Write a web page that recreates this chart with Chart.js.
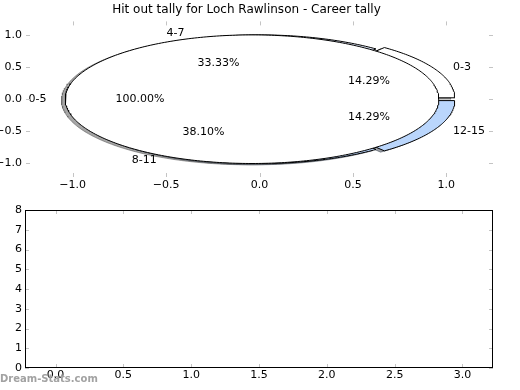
<!DOCTYPE html>
<html>
<head>
<meta charset="utf-8">
<script src="https://cdn.jsdelivr.net/npm/chart.js@4.4.1/dist/chart.umd.min.js"></script>
<style>
  html, body { margin: 0; padding: 0; background: #fff; }
  #wrap { position: relative; width: 520px; height: 390px; overflow: hidden; }
  #pieBox { position: absolute; left: 0; top: 0; width: 520px; height: 200px; }
  #barBox { position: absolute; left: 0; top: 200px; width: 520px; height: 190px; }
  #mark { position: absolute; left: 0; top: 373px; font: bold 10px 'DejaVu Sans', sans-serif; color: #a2a2a2; }
</style>
</head>
<body>
<div id="wrap">
  <div id="pieBox"><canvas id="pieChart" width="520" height="200"></canvas></div>
  <div id="barBox"><canvas id="barChart" width="520" height="190"></canvas></div>
  <div id="mark">Dream-Stats.com</div>
</div>
<script>
// Chart data
const chartTitle = 'Hit out tally for Loch Rawlinson - Career tally';
const tallyLabels = ['0-3', '4-7', '8-11', '12-15'];
const tallyCounts = [3, 7, 8, 3];
const tallyExplode = [0.05, 0, 0, 0.05];
const tallyColors = ['#ffffff', '#e2ebfc', '#bad6fc', '#bad6fc'];
const careerLabels = ['0-5'];
const careerCounts = [21];
const careerExplode = [0.04];
const careerColors = ['#ffffff'];
const pieTicks = [-1.0, -0.5, 0.0, 0.5, 1.0];

const barCategories = [0, 1, 2, 3];
const barValues = [0, 0, 0, 0];
const barXTicks = [0.0, 0.5, 1.0, 1.5, 2.0, 2.5, 3.0];
const barYTicks = [0, 1, 2, 3, 4, 5, 6, 7, 8];

const tickFont = { family: "'DejaVu Sans', sans-serif", size: 11 };

// Wedge outlines built from the counts (angles counter-clockwise from 0 like matplotlib)
function buildWedges(labels, counts, explode, colors) {
    const total = counts.reduce((a, b) => a + b, 0);
    let start = 0;
    return counts.map((c, i) => {
        const sweep = 360 * c / total;
        const mid = (start + sweep / 2) * Math.PI / 180;
        const cx = explode[i] * Math.cos(mid);
        const cy = explode[i] * Math.sin(mid);
        const full = sweep >= 359.999;
        const pts = full ? [] : [{ x: cx, y: cy }];
        const steps = Math.max(4, Math.ceil(sweep));
        for (let k = 0; k <= steps; k++) {
            const a = (start + sweep * k / steps) * Math.PI / 180;
            pts.push({ x: cx + Math.cos(a), y: cy + Math.sin(a) });
        }
        if (!full) pts.push({ x: cx, y: cy });
        start += sweep;
        return { label: labels[i], pct: 100 * c / total, cx, cy, mid, pts, color: colors[i] };
    });
}

const tallyWedges = buildWedges(tallyLabels, tallyCounts, tallyExplode, tallyColors);
const careerWedges = buildWedges(careerLabels, careerCounts, careerExplode, careerColors);

function shadowColor(hex) {
    const n = parseInt(hex.slice(1), 16);
    const r = Math.round(((n >> 16) & 255) * 0.3);
    const g = Math.round(((n >> 8) & 255) * 0.3);
    const b = Math.round((n & 255) * 0.3);
    return `rgba(${r}, ${g}, ${b}, 0.5)`;
}

const pieDatasets = [];
[...tallyWedges, ...careerWedges].forEach(w => {
    // shadow (drawn first)
    pieDatasets.push({
        data: w.pts.map(p => ({ x: p.x - 0.02, y: p.y - 0.02 })),
        showLine: true, fill: 'shape', tension: 0,
        backgroundColor: shadowColor(w.color), borderColor: shadowColor(w.color),
        borderWidth: 1, pointRadius: 0, order: 100
    });
});
tallyWedges.forEach(w => {
    pieDatasets.push({
        data: w.pts, showLine: true, fill: 'shape', tension: 0,
        backgroundColor: w.color, borderColor: '#000', borderWidth: 1,
        pointRadius: 0, order: 50
    });
});
careerWedges.forEach(w => {
    pieDatasets.push({
        data: w.pts, showLine: true, fill: 'shape', tension: 0,
        backgroundColor: w.color, borderColor: '#000', borderWidth: 1,
        pointRadius: 0, order: 10
    });
});

function fmt1(value) {
    const s = Math.abs(value).toFixed(1);
    return value < 0 ? '\u2212' + s : s;
}

// Light inward tick marks on all four sides (+ optional frame)
const innerTicks = {
    id: 'innerTicks',
    afterDraw(chart, args, opts) {
        const { ctx, chartArea: a, scales: { x, y } } = chart;
        ctx.save();
        ctx.strokeStyle = '#c4c4c4';
        ctx.lineWidth = 1;
        ctx.beginPath();
        x.ticks.forEach(t => {
            const px = Math.round(x.getPixelForValue(t.value)) + 0.5;
            ctx.moveTo(px, a.top); ctx.lineTo(px, a.top + 4);
            ctx.moveTo(px, a.bottom); ctx.lineTo(px, a.bottom - 4);
        });
        y.ticks.forEach(t => {
            const py = Math.round(y.getPixelForValue(t.value)) + 0.5;
            ctx.moveTo(a.left, py); ctx.lineTo(a.left + 4, py);
            ctx.moveTo(a.right, py); ctx.lineTo(a.right - 4, py);
        });
        ctx.stroke();
        if (opts.frame) {
            ctx.strokeStyle = '#000';
            ctx.strokeRect(Math.round(a.left) + 0.5, Math.round(a.top) + 0.5,
                Math.round(a.width) - 1, Math.round(a.height) - 1);
        }
        ctx.restore();
    }
};

// Wedge labels and percentages
const pieText = {
    id: 'pieText',
    afterDatasetsDraw(chart) {
        const { ctx, scales: { x, y } } = chart;
        ctx.save();
        ctx.font = "11px 'DejaVu Sans', sans-serif";
        ctx.fillStyle = '#000';
        ctx.textBaseline = 'middle';
        [...tallyWedges, ...careerWedges].forEach(w => {
            const lx = w.cx + 1.1 * Math.cos(w.mid);
            const ly = w.cy + 1.1 * Math.sin(w.mid);
            ctx.textAlign = lx > 0 ? 'left' : 'right';
            ctx.fillText(w.label, x.getPixelForValue(lx), y.getPixelForValue(ly));
            const px = w.cx + 0.6 * Math.cos(w.mid);
            const py = w.cy + 0.6 * Math.sin(w.mid);
            ctx.textAlign = 'center';
            ctx.fillText(w.pct.toFixed(2) + '%', x.getPixelForValue(px), y.getPixelForValue(py));
        });
        ctx.restore();
    }
};

Chart.defaults.font.family = "'DejaVu Sans', sans-serif";
Chart.defaults.color = '#000';

new Chart(document.getElementById('pieChart'), {
    type: 'scatter',
    data: { datasets: pieDatasets },
    options: {
        responsive: false,
        animation: false,
        layout: { padding: { left: 0, right: 27, top: 0, bottom: 0 } },
        plugins: {
            legend: { display: false },
            tooltip: { enabled: false },
            title: {
                display: true, text: chartTitle, color: '#000',
                font: { family: "'DejaVu Sans', sans-serif", size: 12, weight: 'normal' },
                padding: { top: 3, bottom: 4 }
            },
            innerTicks: { frame: false }
        },
        scales: {
            x: {
                type: 'linear', min: -1.25, max: 1.25,
                afterBuildTicks: s => { s.ticks = pieTicks.map(v => ({ value: v })); },
                afterFit: s => { s.height = 23; },
                grid: { display: false, drawTicks: false },
                border: { display: false },
                ticks: { font: tickFont, color: '#000', padding: 2, maxRotation: 0, callback: fmt1 }
            },
            y: {
                type: 'linear', min: -1.21, max: 1.21,
                afterBuildTicks: s => { s.ticks = pieTicks.map(v => ({ value: v })); },
                afterFit: s => { s.width = 26; },
                grid: { display: false, drawTicks: false },
                border: { display: false },
                ticks: { font: tickFont, color: '#000', padding: 4, callback: fmt1 }
            }
        }
    },
    plugins: [innerTicks, pieText]
});

new Chart(document.getElementById('barChart'), {
    type: 'bar',
    data: {
        datasets: [{
            data: barCategories.map((c, i) => ({ x: c, y: barValues[i] })),
            backgroundColor: '#bad6fc', borderWidth: 0
        }]
    },
    options: {
        responsive: false,
        animation: false,
        layout: { padding: { left: 0, right: 27, top: 10, bottom: 0 } },
        plugins: {
            legend: { display: false },
            tooltip: { enabled: false },
            innerTicks: { frame: true }
        },
        scales: {
            x: {
                type: 'linear', min: -0.225, max: 3.225, offset: false,
                afterBuildTicks: s => { s.ticks = barXTicks.map(v => ({ value: v })); },
                afterFit: s => { s.height = 22; },
                grid: { display: false, drawTicks: false, offset: false },
                border: { display: false },
                ticks: { font: tickFont, color: '#000', padding: 1, maxRotation: 0, callback: fmt1 }
            },
            y: {
                type: 'linear', min: 0, max: 8,
                afterBuildTicks: s => { s.ticks = barYTicks.map(v => ({ value: v })); },
                afterFit: s => { s.width = 25; },
                grid: { display: false, drawTicks: false },
                border: { display: false },
                ticks: { font: tickFont, color: '#000', padding: 3, callback: v => String(v) }
            }
        }
    },
    plugins: [innerTicks]
});
</script>
</body>
</html>
